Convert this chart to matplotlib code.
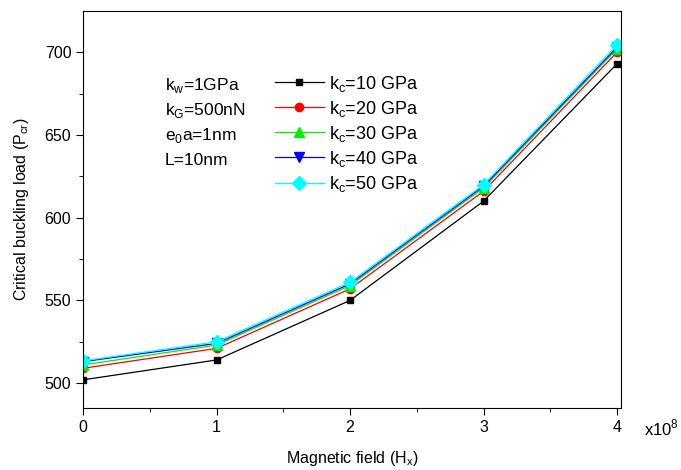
import numpy as np
import matplotlib.pyplot as plt

plt.rcParams['font.family'] = ['Liberation Sans', 'DejaVu Sans']
plt.rcParams['mathtext.fontset'] = 'custom'
plt.rcParams['mathtext.rm'] = 'Liberation Sans'

# data (magnetic field in units of 1e8)
H = [0, 1, 2, 3, 4]
kc_labels = ['10', '20', '30', '40', '50']
P_kc10 = [502, 514, 550, 610, 693]
P_kc20 = [509, 521, 557, 616, 700]
P_kc30 = [511, 523, 559, 618, 702]
P_kc40 = [513, 524, 560, 619, 703]
P_kc50 = [513.5, 525, 561, 620, 704.5]

series = [P_kc10, P_kc20, P_kc30, P_kc40, P_kc50]
colors = ['black', 'red', '#00ee00', 'blue', 'cyan']
markers = ['s', 'o', '^', 'v', 'D']
msizes = [5, 6, 7, 7, 7]

fig = plt.figure(figsize=(6.81, 4.70), dpi=100)
ax = fig.add_axes([0.122, 0.132, 0.79, 0.845])

for y, c, m, ms, lab in zip(series, colors, markers, msizes, kc_labels):
    ax.plot(H, y, color=c, marker=m, markersize=ms, linewidth=0.9,
            label=r'k$_\mathregular{c}$=' + lab + ' GPa')

ax.set_xlim(0, 4.03)
ax.set_ylim(485, 725)
ax.set_xticks([0, 1, 2, 3, 4])
ax.set_xticks(np.arange(0.5, 4, 1), minor=True)
ax.set_yticks([500, 550, 600, 650, 700])
ax.set_yticks(np.arange(525, 725, 50), minor=True)
ax.tick_params(which='both', direction='out', labelsize=11.5)
ax.tick_params(which='major', length=5)
ax.tick_params(which='minor', length=3)

ax.set_xlabel(r'Magnetic field (H$_\mathregular{x}$)', fontsize=11.5, labelpad=10)
ax.set_ylabel(r'Critical buckling load (P$_\mathregular{cr}$)', fontsize=11.5, labelpad=10)
fig.text(0.946, 0.089, r'x10$^\mathregular{8}$', fontsize=12, ha='left', va='center')

params = [r'k$_\mathregular{w}$=1GPa', r'k$_\mathregular{G}$=500nN',
          r'e$_\mathregular{0}$a=1nm', 'L=10nm']
for i, t in enumerate(params):
    ax.text(0.152, 0.812 - i * 0.063, t, transform=ax.transAxes, fontsize=12.5, va='center')

ax.legend(loc='upper left', bbox_to_anchor=(0.343, 0.86), frameon=False,
          fontsize=13, handlelength=2.7, labelspacing=0.28, handletextpad=0.3,
          borderaxespad=0)

fig.savefig('out.png', dpi=100)
